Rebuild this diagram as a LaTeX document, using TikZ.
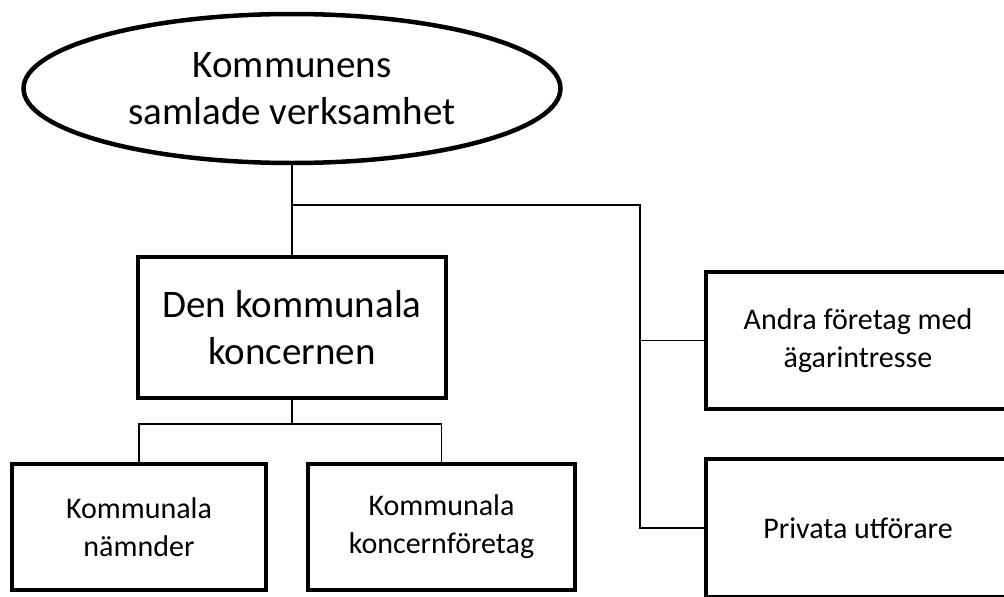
\documentclass[tikz,border=0pt]{standalone}
\usepackage{fontspec}
\setmainfont{Carlito}
\usetikzlibrary{shapes.geometric}

\begin{document}
\begin{tikzpicture}[x=1pt, y=-1pt, line width=1.2pt,
            ram/.style = {draw, line width=4.5pt, rectangle, inner sep=0pt, align=center},
            stor/.style = {font=\fontsize{39}{47}\selectfont},
            liten/.style = {font=\fontsize{30}{38}\selectfont}]
            \useasboundingbox (0,0) rectangle (1004,597);
            \clip (0,0) rectangle (1004,597);
            \node [ellipse,draw,line width=4.5pt,inner sep=0pt,minimum width=537pt,minimum height=149pt,align=center,stor] (helhet) at (292,88.5)
                {Kommunens\\samlade verksamhet};
            \node [ram,stor,minimum width=308pt,minimum height=141pt] (koncern) at (292,327.5)
                {Den kommunala\\koncernen};
            \node [ram,liten,minimum width=254pt,minimum height=126pt] (namnder) at (139,527)
                {Kommunala\\nämnder};
            \node [ram,liten,minimum width=267pt,minimum height=126pt] (bolag) at (441.5,527)
                {Kommunala\\koncernföretag};
            \node [ram,liten,minimum width=304pt,minimum height=137pt] (andra) at (858,340.5)
                {Andra företag med\\ägarintresse};
            \node [ram,liten,minimum width=304pt,minimum height=138pt] (privata) at (858,528)
                {Privata utförare};
            \coordinate (gren) at (292,205);
            \coordinate (stam) at (640,205);
            \coordinate (delning) at (292,424);
            \draw (helhet.south) -- (koncern.north);
            \draw (gren) -- (stam) |- (privata.west);
            \draw (stam) |- (andra.west);
            \draw (koncern.south) -- (delning);
            \draw (namnder.north) |- (delning) -| (bolag.north);
        \end{tikzpicture}
\end{document}
